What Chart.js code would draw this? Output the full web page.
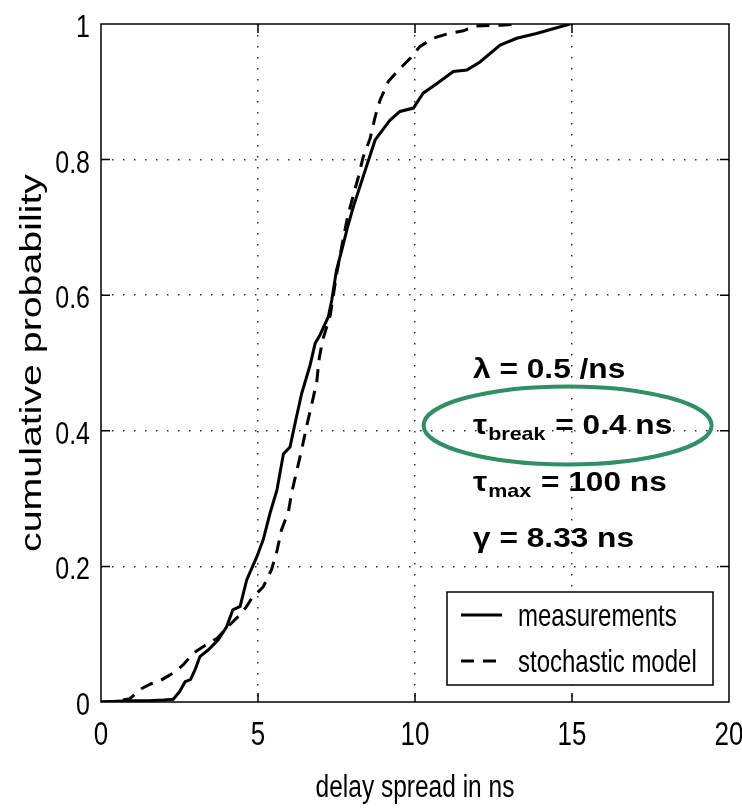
<!DOCTYPE html>
<html>
<head>
<meta charset="utf-8">
<title>Delay spread CDF</title>
<script src="https://cdn.jsdelivr.net/npm/chart.js@4.4.1/dist/chart.umd.min.js"></script>
<style>
  html, body { margin: 0; padding: 0; background: #fff; }
  #wrap { width: 742px; height: 808px; }
</style>
</head>
<body>
<div id="wrap"><canvas id="cdf" width="742" height="808"></canvas></div>
<script>
// delay spread values (ns) and cumulative probability
const measX = [0, 0.5, 1.0, 1.5, 2.0, 2.3, 2.5, 2.68, 2.85, 3.0, 3.15, 3.42, 3.74, 4.0, 4.2, 4.43, 4.64, 4.96,
  5.17, 5.38, 5.6, 5.81, 6.02, 6.18, 6.39, 6.66, 6.82, 6.97, 7.24, 7.35, 7.5, 7.67, 7.85, 8.04, 8.35, 8.73,
  9.2, 9.52, 9.95, 10.26, 10.69, 11.22, 11.65, 12.07, 12.71, 13.24, 13.87, 14.4, 14.94];
const measY = [0, 0.001, 0.002, 0.002, 0.003, 0.004, 0.015, 0.03, 0.033, 0.048, 0.067, 0.077, 0.092, 0.111, 0.136, 0.141, 0.18, 0.214,
  0.24, 0.278, 0.312, 0.366, 0.376, 0.411, 0.455, 0.497, 0.529, 0.541, 0.568, 0.593, 0.637, 0.667, 0.70, 0.731, 0.775, 0.829,
  0.858, 0.871, 0.876, 0.898, 0.912, 0.930, 0.932, 0.944, 0.969, 0.979, 0.986, 0.993, 1.0];

const modelX = [0, 0.5, 0.92, 1.3, 1.6, 1.83, 2.2, 2.45, 2.62, 2.94, 3.3, 3.7, 4.1, 4.48, 4.65, 4.8, 5.17, 5.3, 5.43,
  5.6, 5.75, 5.97, 6.07, 6.23, 6.39, 6.57, 6.74, 6.87, 6.95, 7.06, 7.3, 7.5, 7.7, 7.85, 8.04, 8.2, 8.35, 8.57,
  8.73, 8.89, 9.15, 9.47, 9.84, 10.16, 10.58, 11.0, 11.54, 11.91, 12.44, 12.76, 13.2];
const modelY = [0, 0.001, 0.005, 0.02, 0.027, 0.03, 0.04, 0.048, 0.055, 0.072, 0.083, 0.094, 0.114, 0.131, 0.142, 0.153, 0.17, 0.183, 0.195,
  0.222, 0.254, 0.281, 0.308, 0.34, 0.372, 0.411, 0.445, 0.472, 0.507, 0.534, 0.57, 0.63, 0.68, 0.715, 0.748, 0.775, 0.804, 0.831,
  0.863, 0.888, 0.915, 0.932, 0.949, 0.967, 0.979, 0.985, 0.99, 0.997, 0.998, 0.998, 1.0];

const seriesLabels = ['measurements', 'stochastic model'];
const xTicks = [0, 5, 10, 15, 20];
const yTicks = [0, 0.2, 0.4, 0.6, 0.8, 1];
const xTickLabels = ['0', '5', '10', '15', '20'];
const yTickLabels = ['0', '0.2', '0.4', '0.6', '0.8', '1'];
const xTitle = 'delay spread in ns';
const yTitle = 'cumulative probability';

// model parameters shown in the plot (main symbol, subscript, rest)
const paramLines = [
  ['λ', '', ' = 0.5 /ns'],
  ['τ', 'break', ' = 0.4 ns'],
  ['τ', 'max', ' = 100 ns'],
  ['γ', '', ' = 8.33 ns']
];

const FONT = "'Liberation Sans', Arial, Helvetica, sans-serif";
const STRETCH = 1.3; // the original figure is stretched vertically
const toPts = (xs, ys) => xs.map((x, i) => ({ x: x, y: ys[i] }));

// text with its own scale, so it can look tall like the original
function scaledText(ctx, txt, x, y, font, kx, ky, align, rot) {
  ctx.save();
  ctx.translate(x, y);
  if (rot) ctx.rotate(rot);
  ctx.scale(kx, ky);
  ctx.font = font;
  ctx.textAlign = align || 'left';
  ctx.textBaseline = 'alphabetic';
  ctx.fillText(txt, 0, 0);
  ctx.restore();
}

// box, inward ticks, axis text, legend and parameter annotation
const framePlugin = {
  id: 'frame',
  afterDraw(chart) {
    const { ctx, chartArea: a, scales } = chart;
    const sx = scales.x, sy = scales.y;
    ctx.save();
    ctx.fillStyle = '#000';

    // axes box
    ctx.strokeStyle = '#000';
    ctx.lineWidth = 1.5;
    ctx.strokeRect(a.left, a.top, a.right - a.left, a.bottom - a.top);

    // inward tick marks on all four sides
    const tl = 9;
    ctx.beginPath();
    xTicks.slice(1, -1).forEach(v => {
      const px = sx.getPixelForValue(v);
      ctx.moveTo(px, a.bottom); ctx.lineTo(px, a.bottom - tl);
      ctx.moveTo(px, a.top); ctx.lineTo(px, a.top + tl);
    });
    yTicks.slice(1, -1).forEach(v => {
      const py = sy.getPixelForValue(v);
      ctx.moveTo(a.left, py); ctx.lineTo(a.left + tl, py);
      ctx.moveTo(a.right, py); ctx.lineTo(a.right - tl, py);
    });
    ctx.stroke();

    // tick labels and axis titles
    xTicks.forEach((v, i) => {
      scaledText(ctx, xTickLabels[i], sx.getPixelForValue(v), a.bottom + 43,
        '26px ' + FONT, 1, STRETCH, 'center');
    });
    yTicks.forEach((v, i) => {
      scaledText(ctx, yTickLabels[i], a.left - 11, sy.getPixelForValue(v) + 13,
        '25px ' + FONT, 1, 1.25, 'right');
    });
    scaledText(ctx, xTitle, (a.left + a.right) / 2, a.bottom + 95,
      '24.5px ' + FONT, 1, STRETCH, 'center');
    scaledText(ctx, yTitle, 41, sy.getPixelForValue(0.5),
      '30px ' + FONT, 1.31, 1, 'center', -Math.PI / 2);

    // legend
    const bw = 266, bh = 93;
    const bx = a.right - 16 - bw, by = a.bottom - 17 - bh;
    ctx.fillStyle = '#fff';
    ctx.fillRect(bx, by, bw, bh);
    ctx.lineWidth = 1.5;
    ctx.strokeRect(bx, by, bw, bh);
    ctx.fillStyle = '#000';
    chart.data.datasets.forEach((ds, i) => {
      const ly = by + 23 + i * 46;
      ctx.beginPath();
      ctx.lineWidth = 3;
      ctx.setLineDash(ds.borderDash || []);
      ctx.moveTo(bx + 14, ly);
      ctx.lineTo(bx + 55, ly);
      ctx.stroke();
      ctx.setLineDash([]);
      scaledText(ctx, ds.label, bx + 71, ly + 11, '24px ' + FONT, 1, STRETCH, 'left');
    });

    // parameter text
    const tx = sx.getPixelForValue(11.85);
    const big = 'bold 28px ' + FONT, small = 'bold 19px ' + FONT, kx = 1.13;
    paramLines.forEach((p, i) => {
      const baseY = sy.getPixelForValue(0.478) + i * 56.5;
      let cx = tx;
      scaledText(ctx, p[0], cx, baseY, big, kx, 1);
      ctx.font = big;
      cx += ctx.measureText(p[0]).width * kx;
      if (p[1]) {
        scaledText(ctx, p[1], cx + 1, baseY + 6, small, kx, 1);
        ctx.font = small;
        cx += ctx.measureText(p[1]).width * kx + 2;
      }
      scaledText(ctx, p[2], cx, baseY, big, kx, 1);
    });

    // green highlight around tau_break
    const ex = sx.getPixelForValue(14.86), ey = sy.getPixelForValue(0.408);
    ctx.beginPath();
    ctx.strokeStyle = '#2f9163';
    ctx.lineWidth = 4;
    ctx.ellipse(ex, ey, 144, 39, 0, 0, Math.PI * 2);
    ctx.stroke();

    ctx.restore();
  }
};

const edgeColor = (v, lo, hi) => (v === lo || v === hi) ? 'rgba(0,0,0,0)' : '#333';

new Chart(document.getElementById('cdf'), {
  type: 'line',
  data: {
    datasets: [
      {
        label: seriesLabels[0],
        data: toPts(measX, measY),
        borderColor: '#000',
        borderWidth: 3,
        pointRadius: 0,
        tension: 0,
        fill: false
      },
      {
        label: seriesLabels[1],
        data: toPts(modelX, modelY),
        borderColor: '#000',
        borderWidth: 3,
        borderDash: [13, 9],
        pointRadius: 0,
        tension: 0,
        fill: false
      }
    ]
  },
  options: {
    responsive: false,
    animation: false,
    layout: { padding: { top: 24, right: 13, left: 0, bottom: 0 } },
    plugins: {
      legend: { display: false },
      tooltip: { enabled: false }
    },
    scales: {
      x: {
        type: 'linear',
        min: 0,
        max: 20,
        afterBuildTicks: s => { s.ticks = xTicks.map(v => ({ value: v })); },
        afterFit: s => { s.height = 106; s.paddingLeft = 0; s.paddingRight = 0; },
        border: { display: false, dash: [1.5, 9.5] },
        grid: {
          drawTicks: false,
          lineWidth: 1.5,
          color: c => edgeColor(c.tick && c.tick.value, 0, 20)
        },
        ticks: { display: false }
      },
      y: {
        type: 'linear',
        min: 0,
        max: 1,
        afterBuildTicks: s => { s.ticks = yTicks.map(v => ({ value: v })); },
        afterFit: s => { s.width = 101; s.paddingTop = 0; s.paddingBottom = 0; },
        border: { display: false, dash: [1.5, 9.5] },
        grid: {
          drawTicks: false,
          lineWidth: 1.5,
          color: c => edgeColor(c.tick && c.tick.value, 0, 1)
        },
        ticks: { display: false }
      }
    }
  },
  plugins: [framePlugin]
});
</script>
</body>
</html>
